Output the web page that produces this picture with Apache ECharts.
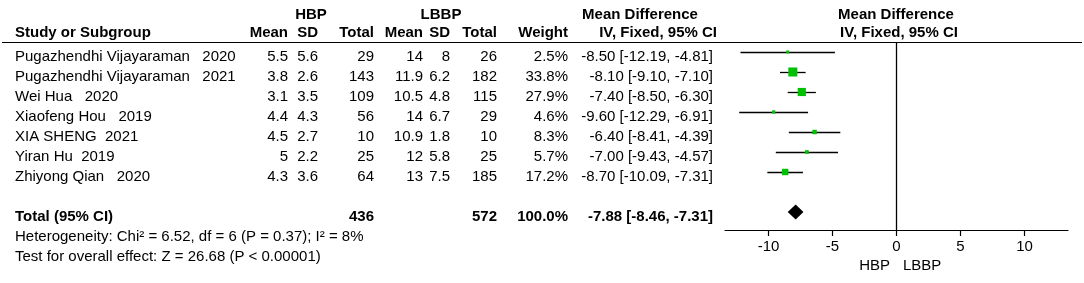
<!DOCTYPE html>
<html>
<head>
<meta charset="utf-8">
<script src="https://cdn.jsdelivr.net/npm/echarts@6/dist/echarts.min.js"></script>
<style>
  html, body { margin: 0; padding: 0; background: #fff; }
  #forest { width: 1084px; height: 283px; }
</style>
</head>
<body>
<div id="forest"></div>
<script>
// study rows
var studies = ['Pugazhendhi Vijayaraman   2020', 'Pugazhendhi Vijayaraman   2021', 'Wei Hua   2020',
  'Xiaofeng Hou   2019', 'XIA SHENG  2021', 'Yiran Hu  2019', 'Zhiyong Qian   2020'];
var hbpMean = [5.5, 3.8, 3.1, 4.4, 4.5, 5, 4.3];
var hbpSD = [5.6, 2.6, 3.5, 4.3, 2.7, 2.2, 3.6];
var hbpTotal = [29, 143, 109, 56, 10, 25, 64];
var lbbpMean = [14, 11.9, 10.5, 14, 10.9, 12, 13];
var lbbpSD = [8, 6.2, 4.8, 6.7, 1.8, 5.8, 7.5];
var lbbpTotal = [26, 182, 115, 29, 10, 25, 185];
var weights = [2.5, 33.8, 27.9, 4.6, 8.3, 5.7, 17.2];
var md = [-8.5, -8.1, -7.4, -9.6, -6.4, -7.0, -8.7];
var ciLow = [-12.19, -9.10, -8.50, -12.29, -8.41, -9.43, -10.09];
var ciHigh = [-4.81, -7.10, -6.30, -6.91, -4.39, -4.57, -7.31];
// pooled
var totalMD = [-7.88, -8.46, -7.31];
var totalN = [436, 572];
var totalRow = 8;
var axisTicks = [-10, -5, 0, 5, 10];
var hetText = 'Heterogeneity: Chi\u00b2 = 6.52, df = 6 (P = 0.37); I\u00b2 = 8%';
var testText = 'Test for overall effect: Z = 26.68 (P < 0.00001)';

var FAM = '"Liberation Sans", Arial, sans-serif';
var FONT = '15px ' + FAM;
var BOLD = 'bold 15px ' + FAM;

function txt(s, x, y, align, bold) {
  return {
    type: 'text', x: x, y: y, silent: true,
    style: { text: s, fill: '#000', font: bold ? BOLD : FONT, align: align || 'left', verticalAlign: 'middle' }
  };
}
function ci(m, l, h) {
  return m.toFixed(2) + ' [' + l.toFixed(2) + ', ' + h.toFixed(2) + ']';
}

var graphic = [];
// header
graphic.push(txt('HBP', 311, 15, 'center', true));
graphic.push(txt('LBBP', 441, 15, 'center', true));
graphic.push(txt('Mean Difference', 640, 15, 'center', true));
graphic.push(txt('Mean Difference', 896, 15, 'center', true));
graphic.push(txt('Study or Subgroup', 15, 33, 'left', true));
graphic.push(txt('Mean', 288, 33, 'right', true));
graphic.push(txt('SD', 318, 33, 'right', true));
graphic.push(txt('Total', 374, 33, 'right', true));
graphic.push(txt('Mean', 423, 33, 'right', true));
graphic.push(txt('SD', 450, 33, 'right', true));
graphic.push(txt('Total', 497, 33, 'right', true));
graphic.push(txt('Weight', 568, 33, 'right', true));
graphic.push(txt('IV, Fixed, 95% CI', 717, 33, 'right', true));
graphic.push(txt('IV, Fixed, 95% CI', 899, 33, 'center', true));
graphic.push({
  type: 'line', silent: true,
  shape: { x1: 2, y1: 42.5, x2: 1082, y2: 42.5 },
  style: { stroke: '#000', lineWidth: 1.2 }
});

for (var i = 0; i < studies.length; i++) {
  var y = 57 + 20 * i;
  graphic.push(txt(studies[i], 15, y, 'left'));
  graphic.push(txt(String(hbpMean[i]), 288, y, 'right'));
  graphic.push(txt(String(hbpSD[i]), 318, y, 'right'));
  graphic.push(txt(String(hbpTotal[i]), 374, y, 'right'));
  graphic.push(txt(String(lbbpMean[i]), 423, y, 'right'));
  graphic.push(txt(String(lbbpSD[i]), 450, y, 'right'));
  graphic.push(txt(String(lbbpTotal[i]), 497, y, 'right'));
  graphic.push(txt(weights[i].toFixed(1) + '%', 568, y, 'right'));
  graphic.push(txt(ci(md[i], ciLow[i], ciHigh[i]), 713, y, 'right'));
}
var ty = 57 + 20 * totalRow;
var wsum = weights.reduce(function (a, b) { return a + b; }, 0);
graphic.push(txt('Total (95% CI)', 15, ty, 'left', true));
graphic.push(txt(String(totalN[0]), 374, ty, 'right', true));
graphic.push(txt(String(totalN[1]), 497, ty, 'right', true));
graphic.push(txt(wsum.toFixed(1) + '%', 568, ty, 'right', true));
graphic.push(txt(ci(totalMD[0], totalMD[1], totalMD[2]), 713, ty, 'right', true));
graphic.push(txt(hetText, 15, 237, 'left'));
graphic.push(txt(testText, 15, 257, 'left'));
graphic.push(txt('HBP', 890, 266, 'right'));
graphic.push(txt('LBBP', 903, 266, 'left'));

var ciData = md.map(function (m, k) { return [ciLow[k], ciHigh[k], k]; });
var pointData = md.map(function (m, k) { return [m, k, weights[k]]; });

var chart = echarts.init(document.getElementById('forest'), null, { renderer: 'canvas' });
chart.setOption({
  animation: false,
  backgroundColor: '#fff',
  grid: { left: 725, right: 16, top: 42, bottom: 53 },
  xAxis: {
    type: 'value', min: -13.4, max: 13.4,
    splitLine: { show: false },
    axisLine: { show: true, onZero: false, lineStyle: { color: '#000', width: 1.2 } },
    axisTick: { show: true, length: 6, lineStyle: { color: '#000', width: 1.2 }, customValues: axisTicks },
    axisLabel: { color: '#000', fontSize: 15, fontFamily: FAM, margin: 9, customValues: axisTicks }
  },
  yAxis: {
    type: 'value', min: -0.5, max: 8.9, inverse: true, show: false
  },
  graphic: graphic,
  series: [
    {
      type: 'custom',
      data: ciData,
      renderItem: function (params, api) {
        var p1 = api.coord([api.value(0), api.value(2)]);
        var p2 = api.coord([api.value(1), api.value(2)]);
        var yy = Math.round(p1[1]) + 0.5;
        return {
          type: 'line',
          shape: { x1: p1[0], y1: yy, x2: p2[0], y2: yy },
          style: { stroke: '#000', lineWidth: 1.3 }
        };
      },
      markLine: {
        silent: true, symbol: 'none', label: { show: false },
        lineStyle: { color: '#000', type: 'solid', width: 1.3 },
        data: [{ xAxis: 0 }]
      }
    },
    {
      type: 'scatter',
      symbol: 'rect',
      data: pointData,
      symbolSize: function (v) { return Math.max(3, 1.55 * Math.sqrt(v[2])); },
      itemStyle: { color: '#00c000', opacity: 1 }
    },
    {
      type: 'custom',
      data: [totalMD.concat([totalRow])],
      renderItem: function (params, api) {
        var c = api.coord([api.value(0), api.value(3)]);
        var l = api.coord([api.value(1), api.value(3)]);
        var r = api.coord([api.value(2), api.value(3)]);
        return {
          type: 'polygon',
          shape: { points: [[l[0] - 0.5, c[1]], [c[0], c[1] - 7.5], [r[0] + 0.5, c[1]], [c[0], c[1] + 7.5]] },
          style: { fill: '#000' }
        };
      }
    }
  ]
});
</script>
</body>
</html>
